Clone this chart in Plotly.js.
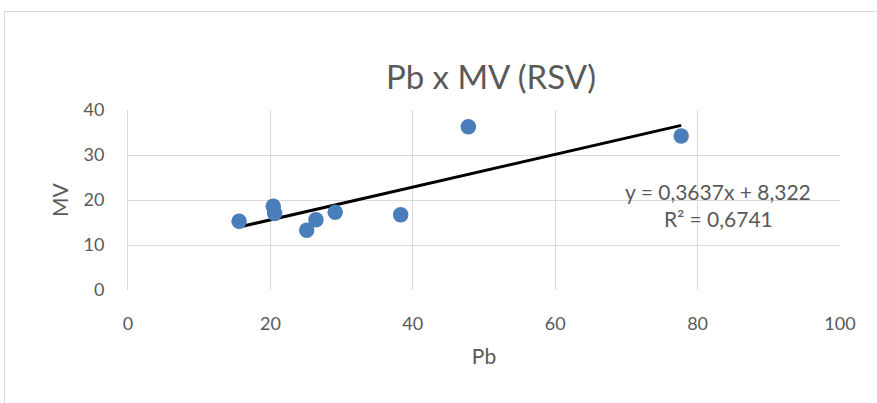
<!DOCTYPE html>
<html>
<head>
<meta charset="utf-8">
<script src="https://cdn.plot.ly/plotly-3.0.1.min.js"></script>
<style>
  html, body { margin: 0; padding: 0; background: #ffffff; }
  #wrap { position: relative; width: 877px; height: 403px; overflow: hidden; }
  #frame { position: absolute; left: 4px; top: 11px; width: 900px; height: 420px;
           border-left: 1px solid #d9d9d9; border-top: 1px solid #d9d9d9; pointer-events: none; }
  #chart { position: absolute; left: 0; top: 0; width: 877px; height: 403px; }
</style>
</head>
<body>
<div id="wrap">
  <div id="chart"></div>
  <div id="frame"></div>
</div>
<script>
// Data
const pb = [15.6, 20.4, 20.6, 25.1, 26.4, 29.1, 38.3, 47.8, 77.7];
const mv = [15.3, 18.6, 17.0, 13.3, 15.6, 17.3, 16.7, 36.3, 34.2];

// Trendline coefficients as shown on the chart
const slope = 0.3637;
const intercept = 8.322;
const eqText = "y = 0,3637x + 8,322";
const r2Text = "R² = 0,6741";

const xTicks = [0, 20, 40, 60, 80, 100];
const yTicks = [0, 10, 20, 30, 40];

const xMin = Math.min(...pb), xMax = Math.max(...pb);
const trendX = [xMin, xMax];
const trendY = trendX.map(v => slope * v + intercept);

const fontFam = "Lato, 'Open Sans', sans-serif";
const grey = "#595959";

const traces = [
  {
    x: trendX, y: trendY, type: "scatter", mode: "lines",
    line: { color: "#000000", width: 3 }, hoverinfo: "skip", showlegend: false
  },
  {
    x: pb, y: mv, type: "scatter", mode: "markers",
    marker: { color: "#4a7ebb", size: 15.5 }, showlegend: false
  }
];

const plotL = 128, plotW = 877 - 128 - 37, plotT = 110, plotH = 403 - 110 - 113;

const layout = {
  width: 877, height: 403,
  margin: { l: plotL, r: 37, t: plotT, b: 113 },
  paper_bgcolor: "rgba(0,0,0,0)", plot_bgcolor: "#ffffff",
  showlegend: false,
  title: {
    text: "Pb x MV (RSV)", font: { family: fontFam, size: 33, color: grey },
    x: 491 / 877, xanchor: "center", xref: "container",
    y: 1 - 77 / 403, yref: "container", yanchor: "middle"
  },
  xaxis: {
    range: [0, 100], tickvals: xTicks, ticktext: xTicks.map(String),
    showgrid: true, gridcolor: "#d9d9d9", gridwidth: 1,
    zeroline: false, showline: false,
    ticks: "outside", ticklen: 17, tickcolor: "rgba(0,0,0,0)",
    tickfont: { family: fontFam, size: 18, color: grey },
    title: { text: "Pb", font: { family: fontFam, size: 21, color: grey }, standoff: 16 },
    fixedrange: true
  },
  yaxis: {
    range: [0, 40], tickvals: yTicks, ticktext: yTicks.map(String),
    showgrid: true, gridcolor: "#d9d9d9", gridwidth: 1,
    zeroline: false, showline: true, linecolor: "#d9d9d9", linewidth: 1,
    ticks: "outside", ticklen: 19, tickcolor: "rgba(0,0,0,0)",
    tickfont: { family: fontFam, size: 18, color: grey },
    title: { text: "" },
    fixedrange: true
  },
  annotations: [
    { x: (718 - plotL) / plotW * 100, y: 1 - (191 - plotT) / plotH, xref: "x", yref: "paper",
      text: eqText, showarrow: false, font: { family: fontFam, size: 21, color: grey } },
    { x: (718 - plotL) / plotW * 100, y: 1 - (218 - plotT) / plotH, xref: "x", yref: "paper",
      text: r2Text, showarrow: false, font: { family: fontFam, size: 21, color: grey } },
    { x: (59 - plotL) / plotW, y: 1 - (200 - plotT) / plotH, xref: "paper", yref: "paper",
      text: "MV", textangle: -90, showarrow: false, xanchor: "center", yanchor: "middle",
      font: { family: fontFam, size: 21, color: grey } }
  ]
};

Plotly.newPlot("chart", traces, layout, { displayModeBar: false, staticPlot: true });
</script>
</body>
</html>
